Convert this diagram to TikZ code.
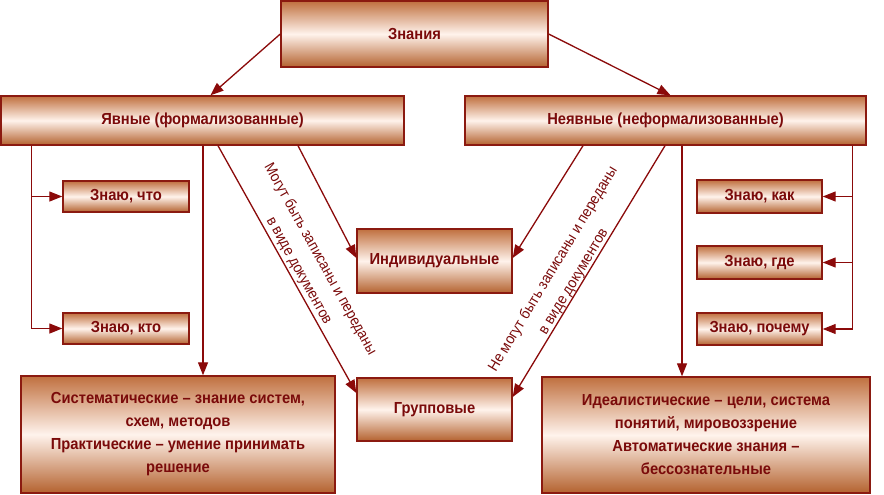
\documentclass[tikz,border=0pt]{standalone}
\usepackage{fontspec}
\setmainfont{Liberation Sans}[FakeStretch=0.92]
\usetikzlibrary{arrows.meta}
\definecolor{boxedge}{HTML}{8B1A10}
\definecolor{boxtext}{HTML}{7A0A0A}
\definecolor{linecol}{HTML}{8B0A0A}
\definecolor{shtop}{HTML}{C0703F}
\definecolor{shmid}{HTML}{FFF3EC}
\definecolor{shbot}{HTML}{B4622F}
\tikzset{
  box/.style={draw=boxedge, line width=1.4pt, top color=shtop, bottom color=shbot, middle color=shmid,
    text=boxtext, font=\fontsize{16}{23}\selectfont\bfseries, align=center, inner sep=2pt},
  arr/.style={draw=linecol, line width=1.3pt, -{Triangle[length=13pt,width=10pt]}},
  lbl/.style={text=boxtext, font=\fontsize{15}{24}\selectfont, align=center, inner sep=0pt}
}
\begin{document}
\begin{tikzpicture}[x=1pt,y=-1pt]
\useasboundingbox (0,0) rectangle (884,495);
\fill[white] (0,0) rectangle (884,495);
% boxes
\node[box, minimum width=267pt, minimum height=66pt] (zn) at (414.5,34) {Знания};
\node[box, minimum width=403pt, minimum height=49pt] (yav) at (202.5,120.5) {Явные (формализованные)};
\node[box, minimum width=401pt, minimum height=49pt] (nyav) at (665.5,120.5) {Неявные (неформализованные)};
\node[box, minimum width=126pt, minimum height=31pt] (what) at (126,196.5) {Знаю, что};
\node[box, minimum width=126pt, minimum height=31pt] (who) at (126,328.5) {Знаю, кто};
\node[box, minimum width=155pt, minimum height=64pt] (ind) at (434.5,261) {Индивидуальные};
\node[box, minimum width=155pt, minimum height=63pt] (grp) at (434.5,409.5) {Групповые};
\node[box, minimum width=125pt, minimum height=33pt] (how) at (759.5,196.5) {Знаю, как};
\node[box, minimum width=125pt, minimum height=33pt] (where) at (759.5,262.5) {Знаю, где};
\node[box, minimum width=125pt, minimum height=32pt] (why) at (759.5,329) {Знаю, почему};
\node[box, minimum width=314pt, minimum height=117pt] (sys) at (178,434.5) {Систематические – знание систем,\\схем, методов\\Практические – умение принимать\\решение};
\node[box, minimum width=328pt, minimum height=116pt] (ideal) at (706,435) {Идеалистические – цели, система\\понятий, мировоззрение\\Автоматические знания –\\бессознательные};
% connectors
\draw[arr] (zn.west) -- ([xshift=8pt]yav.north);
\draw[arr] (zn.east) -- ([xshift=5pt]nyav.north);
\coordinate (lt) at ([xshift=31pt]yav.south west);
\draw[arr] (lt) |- (what.west);
\draw[arr] (lt) |- (who.west);
\coordinate (ls) at ([xshift=0.5pt]yav.south);
\draw[arr] (ls) -- (ls |- sys.north);
\draw[arr] ([xshift=15.5pt]yav.south) -- ([yshift=16.5pt]grp.west);
\draw[arr] ([xshift=95.5pt]yav.south) -- ([yshift=3pt]ind.west);
\draw[arr] ([xshift=-82.5pt]nyav.south) -- ([yshift=3pt]ind.east);
\draw[arr] ([xshift=-0.5pt]nyav.south) -- ([yshift=12.5pt]grp.east);
\coordinate (rs) at ([xshift=16.5pt]nyav.south);
\draw[arr] (rs) -- (rs |- ideal.north);
\coordinate (rt) at ([xshift=-14pt]nyav.south east);
\draw[arr] (rt) |- (how.east);
\draw[arr] (rt) |- (where.east);
\draw[arr] (rt) |- (why.east);
% labels
\node[lbl, rotate=-61] (l1) at (309.5,265) {Могут быть записаны и переданы\\в виде документов};
\node[lbl, rotate=59] (l2) at (563.5,275.5) {Не могут быть записаны и переданы\\в виде документов};
\end{tikzpicture}
\end{document}
